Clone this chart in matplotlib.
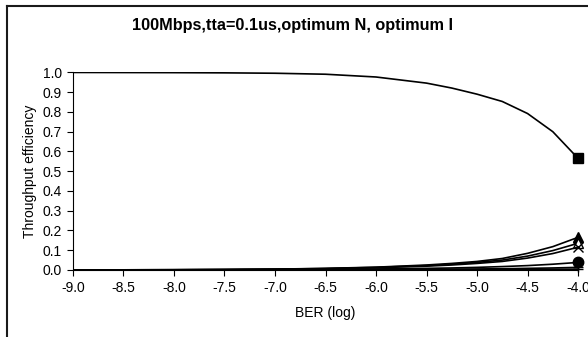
"""
Throughput efficiency vs BER (log), 100Mbps, tta=0.1us
"""

import numpy as np
import matplotlib
matplotlib.use('Agg')
import matplotlib.pyplot as plt

plt.rcParams['font.family'] = ['Liberation Sans', 'DejaVu Sans']

# BER (log10)
ber_log = [-9.0, -8.5, -8.0, -7.5, -7.0, -6.5, -6.0, -5.5, -5.25, -5.0, -4.75, -4.5, -4.25, -4.0]

# 시리즈별 throughput efficiency
eff_square = [1.000, 0.9995, 0.999, 0.998, 0.996, 0.991, 0.977, 0.946, 0.921, 0.890, 0.853, 0.792, 0.700, 0.565]
eff_tri_filled = [0.000, 0.0005, 0.001, 0.002, 0.004, 0.008, 0.014, 0.025, 0.033, 0.043, 0.058, 0.084, 0.118, 0.165]
eff_tri_open = [0.000, 0.0005, 0.001, 0.002, 0.004, 0.007, 0.013, 0.022, 0.029, 0.038, 0.050, 0.070, 0.098, 0.135]
eff_x = [0.000, 0.0005, 0.001, 0.002, 0.003, 0.006, 0.011, 0.019, 0.025, 0.033, 0.043, 0.060, 0.083, 0.115]
eff_circle = [0.000, 0.0002, 0.0005, 0.001, 0.002, 0.003, 0.005, 0.008, 0.010, 0.013, 0.017, 0.022, 0.029, 0.038]
eff_plus = [0.000, 0.0001, 0.0002, 0.0004, 0.0008, 0.001, 0.002, 0.003, 0.004, 0.005, 0.006, 0.008, 0.010, 0.013]
eff_dash = [0.000, 0.0000, 0.0001, 0.0001, 0.0002, 0.0004, 0.0006, 0.001, 0.0013, 0.0017, 0.002, 0.003, 0.0035, 0.004]

x_ticks = np.arange(-9.0, -3.99, 0.5)
y_ticks = np.arange(0.0, 1.01, 0.1)

fig = plt.figure(figsize=(5.88, 3.37), dpi=100)

# 외곽 테두리 (오른쪽/아래는 잘려 있음)
frame_x = 6.5 / 588
frame_y = 1 - 5.5 / 337
frame_ax = fig.add_axes([frame_x, -0.05, 1.05, frame_y + 0.05], zorder=-1)
frame_ax.set_xticks([])
frame_ax.set_yticks([])
frame_ax.patch.set_alpha(0)
for side in ['right', 'bottom']:
    frame_ax.spines[side].set_visible(False)
for side in ['left', 'top']:
    frame_ax.spines[side].set_linewidth(1.5)
    frame_ax.spines[side].set_color('#1a1a1a')

ax = fig.add_axes([0.1241, 0.199, 0.859, 0.586])
ax.patch.set_alpha(0)

series = [
    (eff_square, 's', 'black'),
    (eff_tri_filled, '^', 'black'),
    (eff_tri_open, '^', 'white'),
    (eff_x, 'x', 'black'),
    (eff_circle, 'o', 'black'),
    (eff_plus, '+', 'black'),
    (eff_dash, '_', 'black'),
]
for values, marker, face in series:
    ax.plot(ber_log, values, '-', color='black', linewidth=1.2)
    ax.plot(ber_log[-1], values[-1], marker=marker, markersize=7.5,
            markerfacecolor=face, markeredgecolor='black', clip_on=False)

ax.set_xlim(-9.0, -4.0)
ax.set_ylim(0.0, 1.0)
ax.set_xticks(x_ticks)
ax.set_xticklabels([f'{v:.1f}' for v in x_ticks])
ax.set_yticks(y_ticks)
ax.set_yticklabels([f'{v:.1f}' for v in y_ticks])
ax.tick_params(labelsize=10, length=4, width=0.8, direction='out', pad=4)
ax.spines['top'].set_visible(False)
ax.spines['right'].set_visible(False)
ax.spines['left'].set_linewidth(0.8)
ax.spines['bottom'].set_linewidth(0.8)

ax.set_xlabel('BER (log)', fontsize=10, labelpad=8)
ax.set_ylabel('Throughput efficiency', fontsize=10, labelpad=4)
fig.text(0.497, 0.923, '100Mbps,tta=0.1us,optimum N, optimum I',
         ha='center', va='center', fontsize=11.7, fontweight='bold')

plt.savefig('out.png', dpi=100)
